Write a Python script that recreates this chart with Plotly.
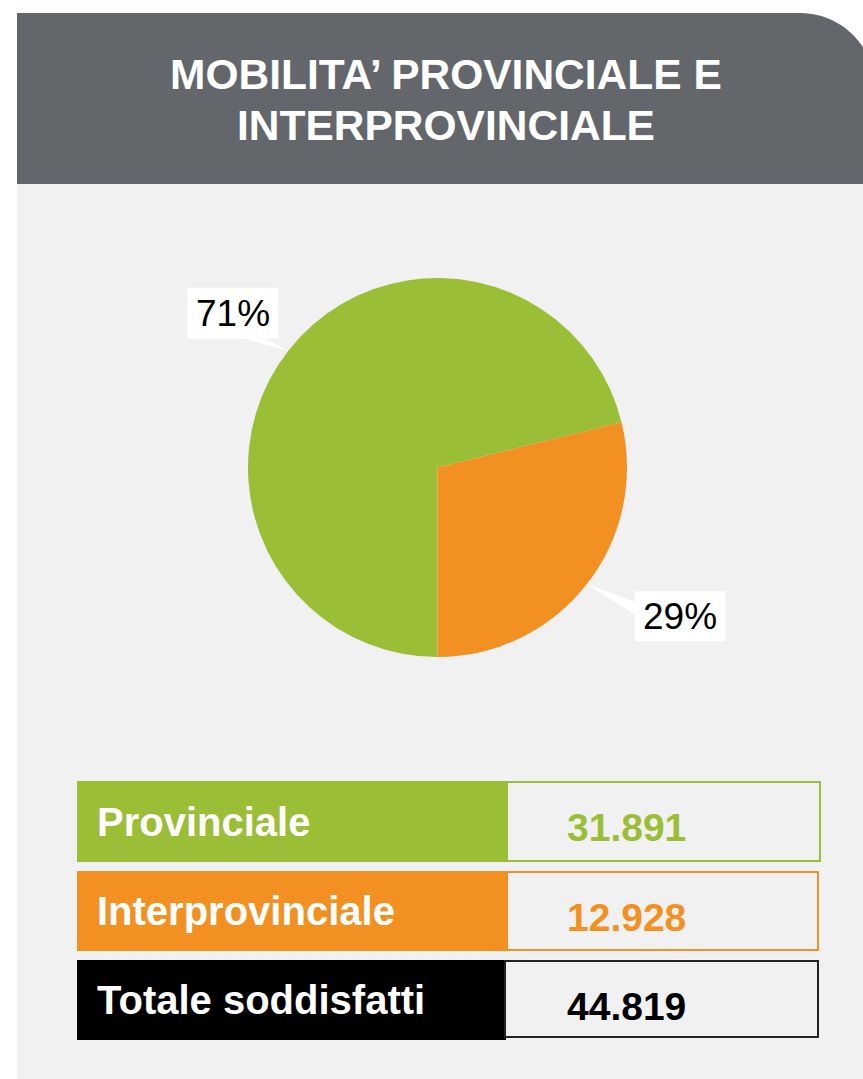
import math
import plotly.graph_objects as go

# ---------------- data ----------------
title_lines = ["MOBILITA’ PROVINCIALE E", "INTERPROVINCIALE"]
categories = ["Provinciale", "Interprovinciale"]
values = [31891, 12928]
total_label = "Totale soddisfatti"
colors = ["#9BBE37", "#F29122"]

# ---------------- layout constants ----------------
W, H = 863, 1079
FONT = "Liberation Sans, Arial, sans-serif"
HEADER_GREY = "#63666A"
BODY_GREY = "#F1F1F1"
CX, CY, R = 437.5, 467.5, 189.5   # pie centre / radius in pixels


def px(x):
    return x / W


def py(y):
    return 1 - y / H


def fmt(n):
    return f"{n:,}".replace(",", ".")


total = sum(values)
pcts = [round(v / total * 100) for v in values]

fig = go.Figure()
fig.add_trace(go.Pie(
    labels=categories, values=values, sort=False, direction="clockwise",
    rotation=180, marker=dict(colors=colors, line=dict(width=0)),
    textinfo="none", hoverinfo="skip", showlegend=False,
    domain=dict(x=[px(CX - R), px(CX + R)], y=[py(CY + R), py(CY - R)]),
))

shapes = []
annotations = []

# background panel: body + header with rounded top-right corner
shapes.append(dict(type="rect", xref="paper", yref="paper", layer="below",
                   x0=px(17), x1=px(880), y0=py(183), y1=py(1095),
                   fillcolor=BODY_GREY, line=dict(width=0)))
k = 0.5523 * 75
path = (f"M {px(17)},{py(184)} L {px(17)},{py(13)} L {px(800)},{py(13)} "
        f"C {px(800 + k)},{py(13)} {px(875)},{py(88 - k)} {px(875)},{py(88)} "
        f"L {px(875)},{py(184)} Z")
shapes.append(dict(type="path", xref="paper", yref="paper", layer="below",
                   path=path, fillcolor=HEADER_GREY, line=dict(width=0)))

for i, line in enumerate(title_lines):
    annotations.append(dict(xref="paper", yref="paper", x=px(446), y=py(74 + 51 * i),
                            xanchor="center", yanchor="middle", showarrow=False,
                            text=f"<b>{line}</b>",
                            font=dict(family=FONT, size=42.5, color="white")))

# pie callouts (white boxes with wedge pointers)
callouts = [
    dict(off=(-55.5, -37.5), w=91, h=51, base="bottom", b=(240, 263)),
    dict(off=(93.5, 32), w=91, h=50, base="left", b=(602, 615)),
]
start = 180.0
for v, p, c in zip(values, pcts, callouts):
    span = 360.0 * v / total
    mid = math.radians(start + span / 2)
    start += span
    tx, ty = CX + R * math.sin(mid), CY - R * math.cos(mid)
    bx, by = tx + c["off"][0], ty + c["off"][1]
    x0, x1 = bx - c["w"] / 2, bx + c["w"] / 2
    y0, y1 = by - c["h"] / 2, by + c["h"] / 2
    if c["base"] == "bottom":
        pts = [(c["b"][0], y1 - 1), (c["b"][1], y1 - 1), (tx, ty)]
    else:
        pts = [(x0 + 1, c["b"][0]), (x0 + 1, c["b"][1]), (tx, ty)]
    tri = "M " + " L ".join(f"{px(a)},{py(b)}" for a, b in pts) + " Z"
    shapes.append(dict(type="path", xref="paper", yref="paper", layer="above",
                       path=tri, fillcolor="white", line=dict(width=0)))
    shapes.append(dict(type="rect", xref="paper", yref="paper", layer="above",
                       x0=px(x0), x1=px(x1), y0=py(y1), y1=py(y0),
                       fillcolor="white", line=dict(width=0)))
    annotations.append(dict(xref="paper", yref="paper", x=px(bx), y=py(by),
                            xanchor="center", yanchor="middle", showarrow=False,
                            text=f"{p}%",
                            font=dict(family=FONT, size=37, color="black")))

# summary table
rows = [
    dict(label=categories[0], value=fmt(values[0]), color=colors[0], text=colors[0],
         y=(781, 862), box=(507, 820, 782, 861), bcol=colors[0]),
    dict(label=categories[1], value=fmt(values[1]), color=colors[1], text=colors[1],
         y=(871, 951), box=(507, 818, 872, 950), bcol=colors[1]),
    dict(label=total_label, value=fmt(total), color="#000000", text="#000000",
         y=(960, 1040), box=(505, 818, 961, 1037), bcol="#222222"),
]
for r in rows:
    ya, yb = r["y"]
    shapes.append(dict(type="rect", xref="paper", yref="paper", layer="above",
                       x0=px(77), x1=px(r["box"][0] + 1), y0=py(yb), y1=py(ya),
                       fillcolor=r["color"], line=dict(width=0)))
    bx0, bx1, by0, by1 = r["box"]
    shapes.append(dict(type="rect", xref="paper", yref="paper", layer="above",
                       x0=px(bx0), x1=px(bx1), y0=py(by1), y1=py(by0),
                       fillcolor=BODY_GREY, line=dict(width=2, color=r["bcol"])))
    cy = (ya + yb) / 2
    annotations.append(dict(xref="paper", yref="paper", x=px(95), y=py(cy),
                            xanchor="left", yanchor="middle", showarrow=False,
                            text=f"<b>{r['label']}</b>",
                            font=dict(family=FONT, size=40, color="white")))
    annotations.append(dict(xref="paper", yref="paper", x=px(626), y=py(cy + 6),
                            xanchor="center", yanchor="middle", showarrow=False,
                            text=f"<b>{r['value']}</b>",
                            font=dict(family=FONT, size=39, color=r["text"])))

fig.update_layout(
    width=W, height=H, margin=dict(l=0, r=0, t=0, b=0),
    paper_bgcolor="white", plot_bgcolor="white",
    shapes=shapes, annotations=annotations, showlegend=False,
)
fig.write_html(
    "out.html",
    config={"displayModeBar": False, "staticPlot": True},
    post_script="document.body.style.margin='0';document.body.style.overflow='hidden';",
)
